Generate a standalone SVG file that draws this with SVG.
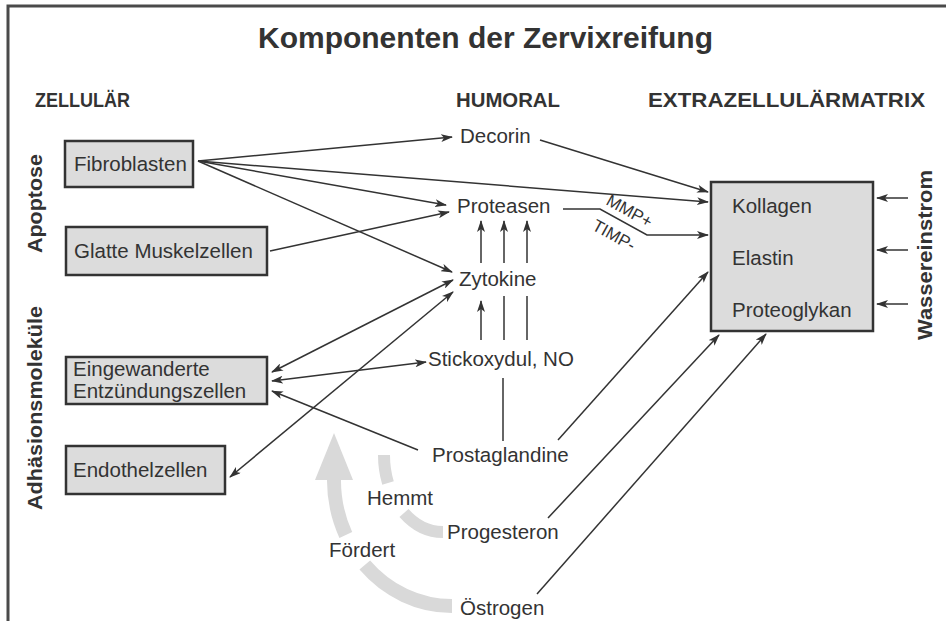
<svg xmlns="http://www.w3.org/2000/svg" width="946" height="621" viewBox="0 0 946 621">
<defs>
<marker id="ah" viewBox="0 0 12 8" refX="11" refY="4" markerWidth="12" markerHeight="8" markerUnits="userSpaceOnUse" orient="auto-start-reverse">
<path d="M0,0 L12,4 L0,8 L3,4 z" fill="#333"/>
</marker>
</defs>
<style>
.t{font-family:"Liberation Sans",Arial,sans-serif;font-size:20.5px;fill:#333}
.h{font-family:"Liberation Sans",Arial,sans-serif;font-weight:bold;fill:#333}
.box{fill:#dcdcdc;stroke:#333;stroke-width:2.5}
.c{fill:none;stroke:#333;stroke-width:1.5}
.a{marker-end:url(#ah)}
.d{marker-start:url(#ah);marker-end:url(#ah)}
.g{fill:none;stroke:#d9d9d9}
.s{font-family:"Liberation Sans",Arial,sans-serif;font-size:17px;fill:#333}
</style>
<rect width="946" height="621" fill="#fff"/>
<g id="frame" fill="none" stroke="#4a4a4a" stroke-width="3">
<path d="M8,621 L8,6 L946,6"/>
</g>
<g id="titles">
<text class="h" x="258" y="48" font-size="30" textLength="455" lengthAdjust="spacingAndGlyphs">Komponenten der Zervixreifung</text>
<text class="h" x="35" y="107" font-size="20" textLength="95" lengthAdjust="spacingAndGlyphs">ZELLULÄR</text>
<text class="h" x="456" y="107" font-size="20" textLength="104" lengthAdjust="spacingAndGlyphs">HUMORAL</text>
<text class="h" x="648" y="107" font-size="20" textLength="277" lengthAdjust="spacingAndGlyphs">EXTRAZELLULÄRMATRIX</text>
<text class="h" font-size="21" transform="translate(42,253) rotate(-90)" textLength="99" lengthAdjust="spacingAndGlyphs">Apoptose</text>
<text class="h" font-size="21" transform="translate(42,510) rotate(-90)" textLength="204" lengthAdjust="spacingAndGlyphs">Adhäsionsmoleküle</text>
<text class="h" font-size="21" transform="translate(932,340) rotate(-90)" textLength="170" lengthAdjust="spacingAndGlyphs">Wassereinstrom</text>
</g>
<g id="connectors">
<path class="c a" d="M198,161 L452,137"/>
<path class="c a" d="M198,161 L708,202"/>
<path class="c a" d="M198,161 L446,205"/>
<path class="c a" d="M198,161 L452,272"/>
<path class="c a" d="M270,251 L449,212"/>
<path class="c a" d="M540,140 L708,192"/>
<path class="c a" d="M563,209 L600,209 L647,235 L708,235"/>
<path class="c d" d="M272,372 L453,280"/>
<path class="c d" d="M230,477 L453,292"/>
<path class="c d" d="M272,381 L426,362"/>
<path class="c a" d="M418,450 L272,391"/>
<path class="c a" d="M481,263 L481,221"/>
<path class="c a" d="M504,263 L504,221"/>
<path class="c a" d="M527,263 L527,221"/>
<path class="c a" d="M481,340 L481,301"/>
<path class="c" d="M504,340 L504,296"/>
<path class="c" d="M527,340 L527,296"/>
<path class="c" d="M503,378 L503,441"/>
<path class="c a" d="M558,440 L708,272"/>
<path class="c a" d="M548,518 L719,335"/>
<path class="c a" d="M537,594 L766,334"/>
<path class="c a" d="M908,198 L877,198"/>
<path class="c a" d="M908,250 L877,250"/>
<path class="c a" d="M908,304 L877,304"/>
<text class="s" transform="translate(605,204) rotate(29)">MMP+</text>
<text class="s" transform="translate(591,229) rotate(29)">TIMP-</text>
</g>
<g id="effects">
<path class="g" stroke-width="14" d="M452,606 A118,126 0 0,1 364.8,565"/>
<path class="g" stroke-width="14" d="M345.8,535 A118,126 0 0,1 334,478"/>
<polygon points="315,480 353,480 334,433" fill="#d9d9d9"/>
<path class="g" stroke-width="12" d="M443,532 A59,77 0 0,1 404,513"/>
<path class="g" stroke-width="12" d="M388,483 A59,77 0 0,1 384,455"/>
<text class="t" x="367" y="505">Hemmt</text>
<text class="t" x="329" y="557">Fördert</text>
</g>
<g id="fibroblasten">
<rect class="box" x="65" y="141" width="128" height="46"/>
<text class="t" x="74" y="171">Fibroblasten</text>
</g>
<g id="glatte">
<rect class="box" x="66" y="227" width="201" height="48"/>
<text class="t" x="74" y="258">Glatte Muskelzellen</text>
</g>
<g id="entzuendung">
<rect class="box" x="66" y="357" width="201" height="47"/>
<text class="t" x="73" y="376">Eingewanderte</text>
<text class="t" x="73" y="398">Entzündungszellen</text>
</g>
<g id="endothel">
<rect class="box" x="66" y="446" width="159" height="48"/>
<text class="t" x="73" y="477">Endothelzellen</text>
</g>
<g id="matrix">
<rect class="box" x="711" y="182" width="162" height="149"/>
<text class="t" x="732" y="213">Kollagen</text>
<text class="t" x="732" y="265">Elastin</text>
<text class="t" x="732" y="317">Proteoglykan</text>
</g>
<g id="decorin"><text class="t" x="460" y="143">Decorin</text></g>
<g id="proteasen"><text class="t" x="457" y="213">Proteasen</text></g>
<g id="zytokine"><text class="t" x="459" y="286">Zytokine</text></g>
<g id="stickoxydul"><text class="t" x="428" y="366">Stickoxydul, NO</text></g>
<g id="prostaglandine"><text class="t" x="432" y="462">Prostaglandine</text></g>
<g id="progesteron"><text class="t" x="447" y="539">Progesteron</text></g>
<g id="oestrogen"><text class="t" x="460" y="615">Östrogen</text></g>
</svg>
